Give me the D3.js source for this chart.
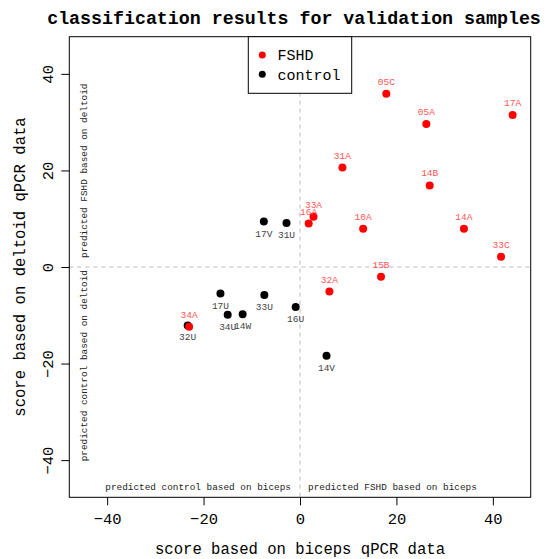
<!DOCTYPE html>
<html><head><meta charset="utf-8">
<script src="https://cdn.jsdelivr.net/npm/d3@7"></script>
<style>body{margin:0;background:#fff}</style>
</head><body><svg id="c" width="552" height="559"></svg>
<script>
const fshdLabels = ["05C","05A","17A","31A","14B","33A","16A","10A","14A","33C","15B","32A","34A"];
const fshdX = [17.9, 26.2, 44.1, 8.8, 26.9, 2.8, 1.8, 13.1, 34.0, 41.7, 16.8, 6.1, -23.0];
const fshdY = [35.9, 29.6, 31.5, 20.6, 16.9, 10.4, 9.0, 7.9, 7.9, 2.1, -2.0, -5.1, -12.4];
const ctrlLabels = ["17V","31U","17U","33U","16U","34U","14W","32U","14V"];
const ctrlX = [-7.5, -2.8, -16.5, -7.4, -0.9, -15.0, -11.9, -23.3, 5.5];
const ctrlY = [9.4, 9.1, -5.5, -5.8, -8.3, -9.9, -9.8, -12.1, -18.4];
const xTicks = [-40, -20, 0, 20, 40];
const yTicks = [-40, -20, 0, 20, 40];
const legendLabels = ["FSHD", "control"];
const legendColors = ["#ff0000", "#000000"];

const F = "'Liberation Mono','Courier New',monospace";
const svg = d3.select("#c");
const L = 69.3, R = 530.7, T = 36.7, B = 497.3;
const x = d3.scaleLinear().domain([-47.85, 47.85]).range([L, R]);
const y = d3.scaleLinear().domain([-47.7, 47.7]).range([B, T]);

// title
svg.append("text").attr("x", 294).attr("y", 24).attr("text-anchor", "middle")
  .style("font-family", F).style("font-weight", "bold").style("font-size", "18.3px")
  .text("classification results for validation samples");

// reference lines
svg.append("line").attr("x1", x(0)).attr("x2", x(0)).attr("y1", T).attr("y2", B)
  .attr("stroke", "#bbb").attr("stroke-dasharray", "4,4");
svg.append("line").attr("x1", L).attr("x2", R).attr("y1", y(0)).attr("y2", y(0))
  .attr("stroke", "#bbb").attr("stroke-dasharray", "4,4");

// axes
const xa = svg.append("g").attr("transform", `translate(0,${B})`)
  .call(d3.axisBottom(x).tickValues(xTicks).tickSize(8).tickPadding(8).tickFormat(d3.format("d")));
xa.select(".domain").remove();
xa.selectAll("text").style("font-family", F).style("font-size", "15.5px").attr("fill", "#000");
const ya = svg.append("g").attr("transform", `translate(${L},0)`)
  .call(d3.axisLeft(y).tickValues(yTicks).tickSize(8).tickFormat(d3.format("d")));
ya.select(".domain").remove();
ya.selectAll("text").style("font-family", F).style("font-size", "15.5px").attr("fill", "#000")
  .attr("text-anchor", "middle").attr("dy", "0").attr("x", 0)
  .attr("transform", "translate(-16,0) rotate(-90)");

svg.append("rect").attr("x", L).attr("y", T).attr("width", R - L).attr("height", B - T)
  .attr("fill", "none").attr("stroke", "#000").attr("stroke-width", 1);

// axis titles
svg.append("text").attr("x", x(0)).attr("y", 554).attr("text-anchor", "middle")
  .style("font-family", F).style("font-size", "15.6px").text("score based on biceps qPCR data");
svg.append("text").attr("transform", `translate(25,${y(0)}) rotate(-90)`).attr("text-anchor", "middle")
  .style("font-family", F).style("font-size", "15.6px").text("score based on deltoid qPCR data");

// region annotations
function annot(t, tx, ty, rot, anchor) {
  svg.append("text").attr("text-anchor", anchor).attr("fill", "#222")
    .style("font-family", F).style("font-size", "9.4px").text(t)
    .attr("transform", `translate(${tx},${ty})` + (rot ? " rotate(-90)" : ""));
}
annot("predicted control based on biceps", x(0) - 9, 490, false, "end");
annot("predicted FSHD based on biceps", x(0) + 8, 490, false, "start");
annot("predicted FSHD based on deltoid", 87, y(0) - 9, true, "start");
annot("predicted control based on deltoid", 87, y(0) + 3, true, "end");

// points
const ctrl = ctrlLabels.map((l, i) => ({ l, x: ctrlX[i], y: ctrlY[i] }));
const fshd = fshdLabels.map((l, i) => ({ l, x: fshdX[i], y: fshdY[i] }));
svg.append("g").selectAll("circle").data(ctrl).join("circle")
  .attr("cx", d => x(d.x)).attr("cy", d => y(d.y)).attr("r", 4).attr("fill", "#000");
svg.append("g").selectAll("text").data(ctrl).join("text")
  .attr("x", d => x(d.x)).attr("y", d => y(d.y) + 15).attr("text-anchor", "middle")
  .attr("fill", "#444").style("font-family", F).style("font-size", "9.5px").text(d => d.l);
svg.append("g").selectAll("circle").data(fshd).join("circle")
  .attr("cx", d => x(d.x)).attr("cy", d => y(d.y)).attr("r", 4).attr("fill", "#ff0000");
svg.append("g").selectAll("text").data(fshd).join("text")
  .attr("x", d => x(d.x)).attr("y", d => y(d.y) - 9).attr("text-anchor", "middle")
  .attr("fill", "#ff5555").style("font-family", F).style("font-size", "9.5px").text(d => d.l);

// legend
const lg = svg.append("g");
lg.append("rect").attr("x", 248.3).attr("y", T).attr("width", 103.4).attr("height", 56.6)
  .attr("fill", "#fff").attr("stroke", "#000");
legendLabels.forEach((t, i) => {
  lg.append("circle").attr("cx", 262.3).attr("cy", 55 + i * 19.3).attr("r", 3.5).attr("fill", legendColors[i]);
  lg.append("text").attr("x", 277.5).attr("y", 55 + i * 19.3).attr("dy", "0.35em")
    .style("font-family", F).style("font-size", "15px").text(t);
});
</script></body></html>
